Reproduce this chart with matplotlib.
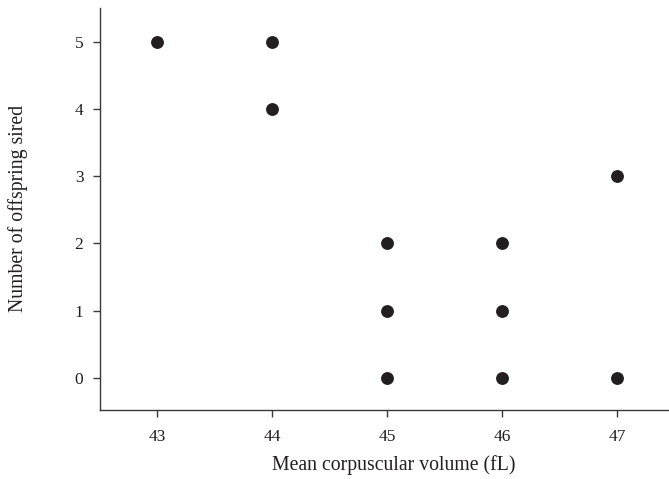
import matplotlib
matplotlib.use("Agg")
import matplotlib.pyplot as plt

# data
mcv = [43, 44, 44, 45, 45, 45, 46, 46, 46, 47, 47]
offspring = [5, 5, 4, 2, 1, 0, 2, 1, 0, 3, 0]

plt.rcParams['font.family'] = ['Liberation Serif', 'DejaVu Serif']

fig = plt.figure(figsize=(6.69, 4.79), dpi=100)
ax = fig.add_axes([0.1495, 0.144, 0.8505, 0.839])

ax.scatter(mcv, offspring, s=68, color='#231f20', zorder=3)

ax.set_xlim(42.505, 47.45)
ax.set_ylim(-0.48, 5.5)
ax.set_xticks([43, 44, 45, 46, 47])
ax.set_yticks([0, 1, 2, 3, 4, 5])

for side in ['top', 'right']:
    ax.spines[side].set_visible(False)
for side in ['left', 'bottom']:
    ax.spines[side].set_color('#3a3a3a')
    ax.spines[side].set_linewidth(1.0)

ax.tick_params(direction='out', length=5, width=1, color='#3a3a3a',
               labelsize=12.5, labelcolor='#231f20')
ax.tick_params(axis='x', pad=9)
ax.tick_params(axis='y', pad=7)

ax.set_xlabel('Mean corpuscular volume (fL)', fontsize=14.2, color='#231f20', va='center')
ax.set_ylabel('Number of offspring sired', fontsize=14.2, color='#231f20', va='center')
ax.xaxis.set_label_coords(0.5155, -0.138)
ax.yaxis.set_label_coords(-0.144, 0.502)

fig.savefig('out.png', dpi=100)
